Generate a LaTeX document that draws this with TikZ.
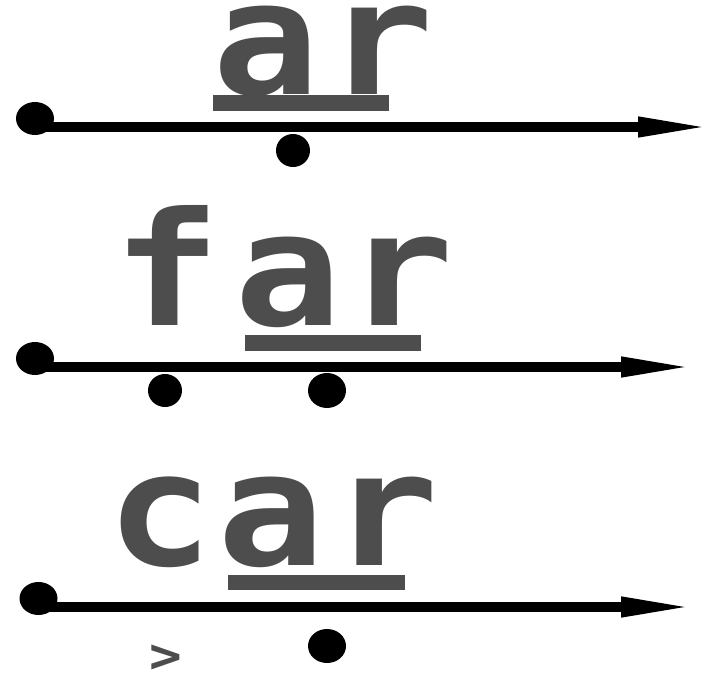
\documentclass[tikz,border=0pt]{standalone}
\usepackage{fontspec}
\usetikzlibrary{arrows.meta,shapes.geometric}
\newfontfamily\monofnt[FakeStretch=1.13]{DejaVu Sans Mono}
\definecolor{lettergray}{HTML}{4D4D4D}

\begin{document}
\begin{tikzpicture}[
  x=1bp, y=-1bp,
  >={Triangle[length=76bp, width=18bp]},
  letter/.style={anchor=base, inner sep=0pt, text=lettergray,
                 text height=88bp, text depth=0pt,
                 font=\monofnt\bfseries\fontsize{158bp}{158bp}\selectfont},
  gtsign/.style={anchor=south, inner sep=0pt, text=lettergray,
                 text height=30bp, text depth=0pt,
                 font=\monofnt\bfseries\fontsize{48bp}{48bp}\selectfont},
  startdot/.style={ellipse, fill=black, inner sep=0pt,
                   minimum width=38bp, minimum height=33bp},
  posdot/.style={ellipse, fill=black, inner sep=0pt,
                 minimum width=34bp, minimum height=33bp},
  axis/.style={->, line width=10bp, draw=black},
  uline/.style={fill=lettergray},
]
\useasboundingbox (0,0) rectangle (711,673);

% first row: ar
\node[letter] (a1) at (266,95) {a};
\node[letter] (r1) at (380,95) {r};
\fill[uline] (213,95) rectangle (389,111);
\coordinate (o1) at (35,127);
\coordinate (e1) at (714,127);
\draw[axis] (o1) -- (e1);
\node[startdot] (s1) at (35,118.5) {};
\node[posdot]   (p1) at (293,150.5) {};

% second row: far
\node[letter] (f2) at (167,325) {f};
\node[letter] (a2) at (288,325) {a};
\node[letter] (r2) at (400,325) {r};
\fill[uline] (245,335) rectangle (421,351);
\coordinate (o2) at (35,367);
\coordinate (e2) at (697,367);
\draw[axis] (o2) -- (e2);
\node[startdot] (s2) at (35,358.5) {};
\node[posdot]   (p2) at (165,390.5) {};
\node[posdot, minimum width=38bp, minimum height=35bp] (q2) at (327,390.5) {};

% third row: car
\node[letter] (c3) at (160,565) {c};
\node[letter] (a3) at (271,565) {a};
\node[letter] (r3) at (385,565) {r};
\fill[uline] (228,575) rectangle (405,590);
\coordinate (o3) at (38,607);
\coordinate (e3) at (697,607);
\draw[axis] (o3) -- (e3);
\node[startdot] (s3) at (38.5,598.5) {};
\node[posdot, minimum width=38bp, minimum height=34bp] (p3) at (327,646) {};
\node[gtsign] (g3) at (165.5,673) {>};

\end{tikzpicture}
\end{document}
